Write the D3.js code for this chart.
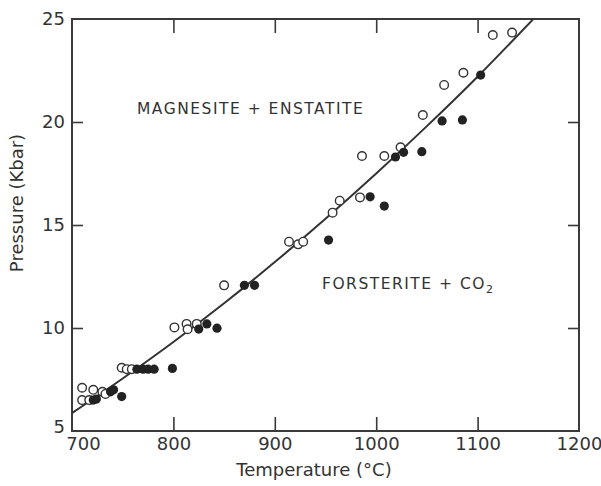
<!DOCTYPE html>
<html><head><meta charset="utf-8">
<script src="https://cdn.jsdelivr.net/npm/d3@7"></script>
<style>body{margin:0;background:#fff}svg{display:block}</style>
</head><body>
<svg id="c" width="601" height="486"></svg>
<script>
// Open circles (magnesite + enstatite stable)
const openT = [710, 710, 717, 721, 730, 733, 749, 754, 759, 801, 813, 814, 823, 850, 914, 923, 928, 957, 964, 984, 986, 1008, 1024, 1046, 1067, 1086, 1115, 1134];
const openP = [7.1, 6.5, 6.5, 7.0, 6.9, 6.8, 8.07, 8.0, 8.0, 10.03, 10.2, 9.94, 10.2, 12.07, 14.19, 14.06, 14.19, 15.6, 16.18, 16.34, 18.35, 18.35, 18.77, 20.34, 21.8, 22.39, 24.22, 24.34];
// Filled circles (forsterite + CO2 stable)
const filledT = [721, 724, 738, 741, 749, 764, 770, 775, 781, 799, 825, 833, 843, 870, 880, 953, 994, 1008, 1019, 1027, 1045, 1065, 1085, 1103];
const filledP = [6.5, 6.55, 6.9, 7.0, 6.67, 8.0, 8.0, 8.0, 8.0, 8.04, 9.95, 10.2, 9.99, 12.07, 12.07, 14.27, 16.37, 15.92, 18.3, 18.53, 18.56, 20.05, 20.1, 22.28];
// Reaction curve
const curveT = [700, 750, 800, 850, 900, 950, 1000, 1050, 1100, 1155];
const curveP = [5.87, 7.55, 9.32, 11.2, 13.2, 15.3, 17.5, 19.8, 22.2, 25.0];
// Ticks
const xTicks = [700, 800, 900, 1000, 1100, 1200];
const yTicks = [5, 10, 15, 20, 25];

const svg = d3.select("#c");
const ink = "#333";
const font = "DejaVu Sans";
const x = d3.scaleLinear().domain([700, 1200]).range([72, 579]);
const y = d3.scaleLinear().domain([5, 25]).range([431, 19]);

const clipId = "plotclip";
svg.append("clipPath").attr("id", clipId).append("rect")
  .attr("x", 72).attr("y", 19).attr("width", 507).attr("height", 412);

// frame
svg.append("rect").attr("x", 72).attr("y", 19).attr("width", 507).attr("height", 412)
  .attr("fill", "none").attr("stroke", "#3a3a3a").attr("stroke-width", 2);

// inward tick marks
const inner = [800, 900, 1000, 1100];
const innerY = [10, 15, 20];
const styleTicks = g => { g.select(".domain").remove(); g.selectAll("line").attr("stroke", "#3a3a3a").attr("stroke-width", 1.6); };
svg.append("g").attr("transform", "translate(0,431)")
  .call(d3.axisBottom(x).tickValues(inner).tickSize(-14).tickFormat("")).call(styleTicks);
svg.append("g").attr("transform", "translate(0,19)")
  .call(d3.axisTop(x).tickValues(inner).tickSize(-14).tickFormat("")).call(styleTicks);
svg.append("g").attr("transform", "translate(72,0)")
  .call(d3.axisLeft(y).tickValues(innerY).tickSize(-11).tickFormat("")).call(styleTicks);
svg.append("g").attr("transform", "translate(579,0)")
  .call(d3.axisRight(y).tickValues(innerY).tickSize(-11).tickFormat("")).call(styleTicks);

// tick labels
const xl = svg.append("g").attr("transform", "translate(0,431)")
  .call(d3.axisBottom(x).tickValues(xTicks).tickSize(0).tickPadding(6).tickFormat(d3.format("d")));
xl.select(".domain").remove();
xl.selectAll("text").attr("font-family", font).attr("font-size", 18).attr("fill", ink)
  .attr("dx", d => d === 700 ? 11 : 0);
const yl = svg.append("g").attr("transform", "translate(72,0)")
  .call(d3.axisLeft(y).tickValues(yTicks).tickSize(0).tickPadding(7).tickFormat(d3.format("d")));
yl.select(".domain").remove();
yl.selectAll("text").attr("font-family", font).attr("font-size", 18).attr("fill", ink)
  .attr("dy", d => d === 5 ? "0.1em" : "0.32em");

// axis titles
svg.append("text").attr("x", 314).attr("y", 476).attr("text-anchor", "middle")
  .attr("font-family", font).attr("font-size", 18).attr("fill", ink).text("Temperature (°C)");
svg.append("text").attr("transform", "translate(23,203) rotate(-90)").attr("text-anchor", "middle")
  .attr("font-family", font).attr("font-size", 18).attr("fill", ink).text("Pressure (Kbar)");

// curve
const line = d3.line().x((d, i) => x(curveT[i])).y((d, i) => y(curveP[i])).curve(d3.curveMonotoneX);
svg.append("path").datum(curveT).attr("d", line).attr("fill", "none")
  .attr("stroke", "#333").attr("stroke-width", 2).attr("clip-path", `url(#${clipId})`);

// points
svg.append("g").selectAll("circle").data(openT).join("circle")
  .attr("cx", d => x(d)).attr("cy", (d, i) => y(openP[i])).attr("r", 4.3)
  .attr("fill", "#fff").attr("stroke", "#333").attr("stroke-width", 1.4);
svg.append("g").selectAll("circle").data(filledT).join("circle")
  .attr("cx", d => x(d)).attr("cy", (d, i) => y(filledP[i])).attr("r", 4.6)
  .attr("fill", "#222");

// field labels
svg.append("text").attr("x", 137).attr("y", 114).attr("font-family", font).attr("font-size", 15.5)
  .attr("fill", ink).attr("letter-spacing", 1.5).text("MAGNESITE + ENSTATITE");
const f = svg.append("text").attr("x", 322).attr("y", 289).attr("font-family", font).attr("font-size", 15.5)
  .attr("fill", ink).attr("letter-spacing", 1.5);
f.append("tspan").text("FORSTERITE + CO");
f.append("tspan").attr("font-size", 11).attr("dy", 4).text("2");
</script>
</body></html>
